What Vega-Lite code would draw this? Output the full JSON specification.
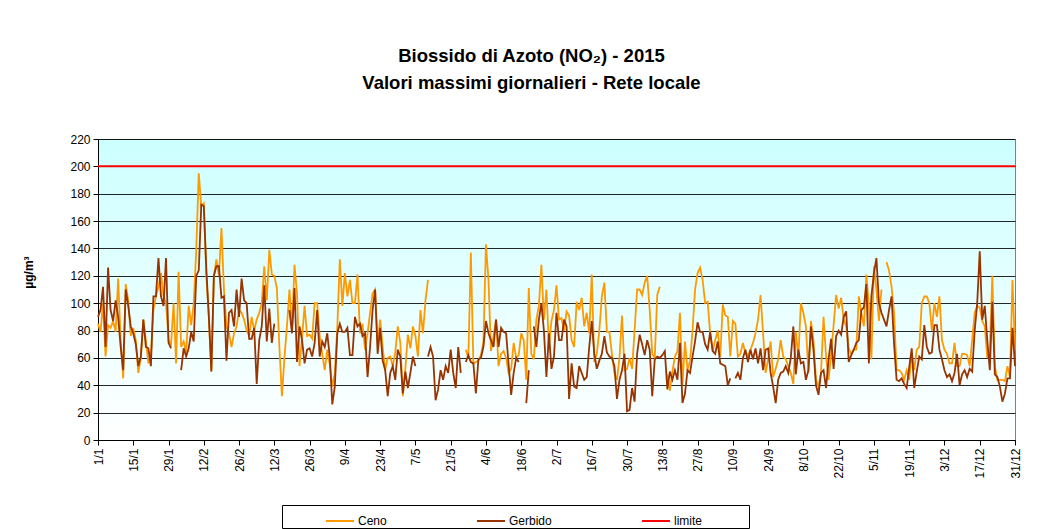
{
"$schema":"https://vega.github.io/schema/vega-lite/v6.json",
"width":917,"height":301,
"autosize":{"type":"none"},
"padding":{"left":98,"top":139,"right":27,"bottom":89},
"background":"white",
"config":{"font":"Liberation Sans","view":{"stroke":"#808080","strokeWidth":1,"fill":{"gradient":"linear","x1":0,"y1":0,"x2":0,"y2":1,"stops":[{"offset":0,"color":"#CCFFFF"},{"offset":1,"color":"#FFFFFF"}]}}},
"title":{"text":["Biossido di Azoto (NO₂) - 2015","Valori massimi giornalieri - Rete locale"],"fontSize":18.5,"fontWeight":"bold","font":"Liberation Sans","lineHeight":27,"dx":-25,"offset":41,"color":"black"},
"layer":[
{"data":{"values":[
{"data":"2015-01-01","Ceno":85,"Gerbido":90},{"data":"2015-01-02","Ceno":79,"Gerbido":95},{"data":"2015-01-03","Ceno":100,"Gerbido":112},{"data":"2015-01-04","Ceno":61,"Gerbido":68},{"data":"2015-01-05","Ceno":84,"Gerbido":126},{"data":"2015-01-06","Ceno":82,"Gerbido":95},{"data":"2015-01-07","Ceno":87,"Gerbido":87},{"data":"2015-01-08","Ceno":79,"Gerbido":102},{"data":"2015-01-09","Ceno":118,"Gerbido":90},{"data":"2015-01-10","Ceno":73,"Gerbido":68},{"data":"2015-01-11","Ceno":45,"Gerbido":51},{"data":"2015-01-12","Ceno":114,"Gerbido":110},{"data":"2015-01-13","Ceno":102,"Gerbido":98},{"data":"2015-01-14","Ceno":76,"Gerbido":83},{"data":"2015-01-15","Ceno":82,"Gerbido":78},{"data":"2015-01-16","Ceno":73,"Gerbido":70},{"data":"2015-01-17","Ceno":49,"Gerbido":54},{"data":"2015-01-18","Ceno":60,"Gerbido":61},{"data":"2015-01-19","Ceno":88,"Gerbido":88},{"data":"2015-01-20","Ceno":73,"Gerbido":68},{"data":"2015-01-21","Ceno":56,"Gerbido":67},{"data":"2015-01-22","Ceno":62,"Gerbido":54},{"data":"2015-01-23","Ceno":95,"Gerbido":105},{"data":"2015-01-24","Ceno":105,"Gerbido":105},{"data":"2015-01-25","Ceno":112,"Gerbido":133},{"data":"2015-01-26","Ceno":122,"Gerbido":105},{"data":"2015-01-27","Ceno":105,"Gerbido":98},{"data":"2015-01-28","Ceno":100,"Gerbido":133},{"data":"2015-01-29","Ceno":73,"Gerbido":71},{"data":"2015-01-30","Ceno":70,"Gerbido":67},{"data":"2015-01-31","Ceno":100,"Gerbido":null},
{"data":"2015-02-01","Ceno":56,"Gerbido":null},{"data":"2015-02-02","Ceno":123,"Gerbido":null},{"data":"2015-02-03","Ceno":68,"Gerbido":51},{"data":"2015-02-04","Ceno":72,"Gerbido":67},{"data":"2015-02-05","Ceno":64,"Gerbido":61},{"data":"2015-02-06","Ceno":98,"Gerbido":67},{"data":"2015-02-07","Ceno":84,"Gerbido":79},{"data":"2015-02-08","Ceno":100,"Gerbido":72},{"data":"2015-02-09","Ceno":139,"Gerbido":120},{"data":"2015-02-10","Ceno":195,"Gerbido":124},{"data":"2015-02-11","Ceno":171,"Gerbido":172},{"data":"2015-02-12","Ceno":173,"Gerbido":171},{"data":"2015-02-13","Ceno":120,"Gerbido":125},{"data":"2015-02-14","Ceno":90,"Gerbido":90},{"data":"2015-02-15","Ceno":51,"Gerbido":50},{"data":"2015-02-16","Ceno":120,"Gerbido":120},{"data":"2015-02-17","Ceno":132,"Gerbido":127},{"data":"2015-02-18","Ceno":120,"Gerbido":127},{"data":"2015-02-19","Ceno":155,"Gerbido":104},{"data":"2015-02-20","Ceno":110,"Gerbido":105},{"data":"2015-02-21","Ceno":83,"Gerbido":58},{"data":"2015-02-22","Ceno":78,"Gerbido":93},{"data":"2015-02-23","Ceno":68,"Gerbido":95},{"data":"2015-02-24","Ceno":78,"Gerbido":83},{"data":"2015-02-25","Ceno":83,"Gerbido":110},{"data":"2015-02-26","Ceno":95,"Gerbido":90},{"data":"2015-02-27","Ceno":93,"Gerbido":118},{"data":"2015-02-28","Ceno":88,"Gerbido":102},
{"data":"2015-03-01","Ceno":80,"Gerbido":100},{"data":"2015-03-02","Ceno":76,"Gerbido":74},{"data":"2015-03-03","Ceno":90,"Gerbido":74},{"data":"2015-03-04","Ceno":80,"Gerbido":82},{"data":"2015-03-05","Ceno":88,"Gerbido":41},{"data":"2015-03-06","Ceno":93,"Gerbido":73},{"data":"2015-03-07","Ceno":100,"Gerbido":83},{"data":"2015-03-08","Ceno":127,"Gerbido":113},{"data":"2015-03-09","Ceno":102,"Gerbido":72},{"data":"2015-03-10","Ceno":139,"Gerbido":96},{"data":"2015-03-11","Ceno":121,"Gerbido":71},{"data":"2015-03-12","Ceno":120,"Gerbido":85},{"data":"2015-03-13","Ceno":111,"Gerbido":null},{"data":"2015-03-14","Ceno":68,"Gerbido":null},{"data":"2015-03-15","Ceno":32,"Gerbido":null},{"data":"2015-03-16","Ceno":60,"Gerbido":null},{"data":"2015-03-17","Ceno":83,"Gerbido":null},{"data":"2015-03-18","Ceno":110,"Gerbido":95},{"data":"2015-03-19","Ceno":80,"Gerbido":78},{"data":"2015-03-20","Ceno":128,"Gerbido":111},{"data":"2015-03-21","Ceno":107,"Gerbido":57},{"data":"2015-03-22","Ceno":54,"Gerbido":83},{"data":"2015-03-23","Ceno":75,"Gerbido":73},{"data":"2015-03-24","Ceno":98,"Gerbido":56},{"data":"2015-03-25","Ceno":76,"Gerbido":66},{"data":"2015-03-26","Ceno":77,"Gerbido":67},{"data":"2015-03-27","Ceno":74,"Gerbido":61},{"data":"2015-03-28","Ceno":100,"Gerbido":71},{"data":"2015-03-29","Ceno":100,"Gerbido":95},{"data":"2015-03-30","Ceno":76,"Gerbido":61},{"data":"2015-03-31","Ceno":63,"Gerbido":72},
{"data":"2015-04-01","Ceno":51,"Gerbido":68},{"data":"2015-04-02","Ceno":66,"Gerbido":78},{"data":"2015-04-03","Ceno":55,"Gerbido":61},{"data":"2015-04-04","Ceno":39,"Gerbido":26},{"data":"2015-04-05","Ceno":49,"Gerbido":39},{"data":"2015-04-06","Ceno":83,"Gerbido":78},{"data":"2015-04-07","Ceno":132,"Gerbido":85},{"data":"2015-04-08","Ceno":98,"Gerbido":79},{"data":"2015-04-09","Ceno":122,"Gerbido":79},{"data":"2015-04-10","Ceno":105,"Gerbido":82},{"data":"2015-04-11","Ceno":117,"Gerbido":62},{"data":"2015-04-12","Ceno":100,"Gerbido":62},{"data":"2015-04-13","Ceno":100,"Gerbido":90},{"data":"2015-04-14","Ceno":121,"Gerbido":83},{"data":"2015-04-15","Ceno":78,"Gerbido":85},{"data":"2015-04-16","Ceno":85,"Gerbido":76},{"data":"2015-04-17","Ceno":66,"Gerbido":78},{"data":"2015-04-18","Ceno":78,"Gerbido":46},{"data":"2015-04-19","Ceno":93,"Gerbido":68},{"data":"2015-04-20","Ceno":107,"Gerbido":95},{"data":"2015-04-21","Ceno":110,"Gerbido":110},{"data":"2015-04-22","Ceno":70,"Gerbido":63},{"data":"2015-04-23","Ceno":88,"Gerbido":82},{"data":"2015-04-24","Ceno":68,"Gerbido":58},{"data":"2015-04-25","Ceno":51,"Gerbido":51},{"data":"2015-04-26","Ceno":60,"Gerbido":32},{"data":"2015-04-27","Ceno":61,"Gerbido":49},{"data":"2015-04-28","Ceno":54,"Gerbido":54},{"data":"2015-04-29","Ceno":64,"Gerbido":44},{"data":"2015-04-30","Ceno":83,"Gerbido":66},
{"data":"2015-05-01","Ceno":71,"Gerbido":61},{"data":"2015-05-02","Ceno":32,"Gerbido":34},{"data":"2015-05-03","Ceno":52,"Gerbido":50},{"data":"2015-05-04","Ceno":77,"Gerbido":38},{"data":"2015-05-05","Ceno":67,"Gerbido":49},{"data":"2015-05-06","Ceno":83,"Gerbido":61},{"data":"2015-05-07","Ceno":76,"Gerbido":54},{"data":"2015-05-08","Ceno":61,"Gerbido":null},{"data":"2015-05-09","Ceno":95,"Gerbido":null},{"data":"2015-05-10","Ceno":78,"Gerbido":null},{"data":"2015-05-11","Ceno":102,"Gerbido":null},{"data":"2015-05-12","Ceno":117,"Gerbido":61},{"data":"2015-05-13","Ceno":null,"Gerbido":68},{"data":"2015-05-14","Ceno":null,"Gerbido":61},{"data":"2015-05-15","Ceno":null,"Gerbido":29},{"data":"2015-05-16","Ceno":null,"Gerbido":37},{"data":"2015-05-17","Ceno":null,"Gerbido":51},{"data":"2015-05-18","Ceno":null,"Gerbido":44},{"data":"2015-05-19","Ceno":null,"Gerbido":54},{"data":"2015-05-20","Ceno":null,"Gerbido":49},{"data":"2015-05-21","Ceno":null,"Gerbido":66},{"data":"2015-05-22","Ceno":null,"Gerbido":49},{"data":"2015-05-23","Ceno":null,"Gerbido":38},{"data":"2015-05-24","Ceno":null,"Gerbido":68},{"data":"2015-05-25","Ceno":null,"Gerbido":49},{"data":"2015-05-26","Ceno":null,"Gerbido":null},{"data":"2015-05-27","Ceno":66,"Gerbido":57},{"data":"2015-05-28","Ceno":60,"Gerbido":62},{"data":"2015-05-29","Ceno":137,"Gerbido":57},{"data":"2015-05-30","Ceno":56,"Gerbido":56},{"data":"2015-05-31","Ceno":57,"Gerbido":34},
{"data":"2015-06-01","Ceno":58,"Gerbido":59},{"data":"2015-06-02","Ceno":62,"Gerbido":60},{"data":"2015-06-03","Ceno":72,"Gerbido":68},{"data":"2015-06-04","Ceno":143,"Gerbido":87},{"data":"2015-06-05","Ceno":117,"Gerbido":78},{"data":"2015-06-06","Ceno":65,"Gerbido":73},{"data":"2015-06-07","Ceno":76,"Gerbido":68},{"data":"2015-06-08","Ceno":88,"Gerbido":88},{"data":"2015-06-09","Ceno":54,"Gerbido":68},{"data":"2015-06-10","Ceno":63,"Gerbido":82},{"data":"2015-06-11","Ceno":65,"Gerbido":79},{"data":"2015-06-12","Ceno":60,"Gerbido":78},{"data":"2015-06-13","Ceno":49,"Gerbido":55},{"data":"2015-06-14","Ceno":52,"Gerbido":33},{"data":"2015-06-15","Ceno":71,"Gerbido":49},{"data":"2015-06-16","Ceno":60,"Gerbido":60},{"data":"2015-06-17","Ceno":62,"Gerbido":57},{"data":"2015-06-18","Ceno":78,"Gerbido":null},{"data":"2015-06-19","Ceno":73,"Gerbido":null},{"data":"2015-06-20","Ceno":44,"Gerbido":27},{"data":"2015-06-21","Ceno":111,"Gerbido":51},{"data":"2015-06-22","Ceno":63,"Gerbido":null},{"data":"2015-06-23","Ceno":59,"Gerbido":83},{"data":"2015-06-24","Ceno":88,"Gerbido":68},{"data":"2015-06-25","Ceno":98,"Gerbido":88},{"data":"2015-06-26","Ceno":128,"Gerbido":100},{"data":"2015-06-27","Ceno":88,"Gerbido":80},{"data":"2015-06-28","Ceno":110,"Gerbido":46},{"data":"2015-06-29","Ceno":68,"Gerbido":78},{"data":"2015-06-30","Ceno":87,"Gerbido":52},
{"data":"2015-07-01","Ceno":95,"Gerbido":61},{"data":"2015-07-02","Ceno":113,"Gerbido":93},{"data":"2015-07-03","Ceno":88,"Gerbido":73},{"data":"2015-07-04","Ceno":89,"Gerbido":73},{"data":"2015-07-05","Ceno":80,"Gerbido":88},{"data":"2015-07-06","Ceno":94,"Gerbido":83},{"data":"2015-07-07","Ceno":91,"Gerbido":30},{"data":"2015-07-08","Ceno":73,"Gerbido":56},{"data":"2015-07-09","Ceno":68,"Gerbido":39},{"data":"2015-07-10","Ceno":101,"Gerbido":38},{"data":"2015-07-11","Ceno":95,"Gerbido":54},{"data":"2015-07-12","Ceno":104,"Gerbido":49},{"data":"2015-07-13","Ceno":83,"Gerbido":44},{"data":"2015-07-14","Ceno":93,"Gerbido":46},{"data":"2015-07-15","Ceno":78,"Gerbido":68},{"data":"2015-07-16","Ceno":121,"Gerbido":87},{"data":"2015-07-17","Ceno":57,"Gerbido":63},{"data":"2015-07-18","Ceno":63,"Gerbido":52},{"data":"2015-07-19","Ceno":80,"Gerbido":58},{"data":"2015-07-20","Ceno":105,"Gerbido":63},{"data":"2015-07-21","Ceno":115,"Gerbido":76},{"data":"2015-07-22","Ceno":79,"Gerbido":64},{"data":"2015-07-23","Ceno":79,"Gerbido":61},{"data":"2015-07-24","Ceno":63,"Gerbido":60},{"data":"2015-07-25","Ceno":49,"Gerbido":54},{"data":"2015-07-26","Ceno":44,"Gerbido":30},{"data":"2015-07-27","Ceno":60,"Gerbido":44},{"data":"2015-07-28","Ceno":91,"Gerbido":51},{"data":"2015-07-29","Ceno":51,"Gerbido":63},{"data":"2015-07-30","Ceno":52,"Gerbido":21},{"data":"2015-07-31","Ceno":60,"Gerbido":22},
{"data":"2015-08-01","Ceno":52,"Gerbido":38},{"data":"2015-08-02","Ceno":80,"Gerbido":28},{"data":"2015-08-03","Ceno":110,"Gerbido":63},{"data":"2015-08-04","Ceno":110,"Gerbido":77},{"data":"2015-08-05","Ceno":106,"Gerbido":70},{"data":"2015-08-06","Ceno":115,"Gerbido":62},{"data":"2015-08-07","Ceno":120,"Gerbido":73},{"data":"2015-08-08","Ceno":95,"Gerbido":66},{"data":"2015-08-09","Ceno":63,"Gerbido":32},{"data":"2015-08-10","Ceno":60,"Gerbido":59},{"data":"2015-08-11","Ceno":106,"Gerbido":61},{"data":"2015-08-12","Ceno":112,"Gerbido":60},{"data":"2015-08-13","Ceno":null,"Gerbido":62},{"data":"2015-08-14","Ceno":null,"Gerbido":65},{"data":"2015-08-15","Ceno":48,"Gerbido":37},{"data":"2015-08-16","Ceno":36,"Gerbido":50},{"data":"2015-08-17","Ceno":50,"Gerbido":44},{"data":"2015-08-18","Ceno":61,"Gerbido":51},{"data":"2015-08-19","Ceno":65,"Gerbido":44},{"data":"2015-08-20","Ceno":93,"Gerbido":71},{"data":"2015-08-21","Ceno":40,"Gerbido":27},{"data":"2015-08-22","Ceno":72,"Gerbido":34},{"data":"2015-08-23","Ceno":51,"Gerbido":51},{"data":"2015-08-24","Ceno":58,"Gerbido":49},{"data":"2015-08-25","Ceno":80,"Gerbido":61},{"data":"2015-08-26","Ceno":110,"Gerbido":72},{"data":"2015-08-27","Ceno":122,"Gerbido":86},{"data":"2015-08-28","Ceno":126,"Gerbido":79},{"data":"2015-08-29","Ceno":117,"Gerbido":79},{"data":"2015-08-30","Ceno":100,"Gerbido":70},{"data":"2015-08-31","Ceno":101,"Gerbido":66},
{"data":"2015-09-01","Ceno":78,"Gerbido":79},{"data":"2015-09-02","Ceno":65,"Gerbido":65},{"data":"2015-09-03","Ceno":73,"Gerbido":63},{"data":"2015-09-04","Ceno":80,"Gerbido":72},{"data":"2015-09-05","Ceno":61,"Gerbido":56},{"data":"2015-09-06","Ceno":99,"Gerbido":55},{"data":"2015-09-07","Ceno":91,"Gerbido":54},{"data":"2015-09-08","Ceno":90,"Gerbido":40},{"data":"2015-09-09","Ceno":61,"Gerbido":45},{"data":"2015-09-10","Ceno":87,"Gerbido":null},{"data":"2015-09-11","Ceno":85,"Gerbido":45},{"data":"2015-09-12","Ceno":61,"Gerbido":49},{"data":"2015-09-13","Ceno":63,"Gerbido":44},{"data":"2015-09-14","Ceno":71,"Gerbido":60},{"data":"2015-09-15","Ceno":63,"Gerbido":66},{"data":"2015-09-16","Ceno":62,"Gerbido":57},{"data":"2015-09-17","Ceno":66,"Gerbido":66},{"data":"2015-09-18","Ceno":71,"Gerbido":59},{"data":"2015-09-19","Ceno":78,"Gerbido":67},{"data":"2015-09-20","Ceno":88,"Gerbido":56},{"data":"2015-09-21","Ceno":106,"Gerbido":67},{"data":"2015-09-22","Ceno":78,"Gerbido":51},{"data":"2015-09-23","Ceno":49,"Gerbido":66},{"data":"2015-09-24","Ceno":59,"Gerbido":67},{"data":"2015-09-25","Ceno":72,"Gerbido":49},{"data":"2015-09-26","Ceno":46,"Gerbido":39},{"data":"2015-09-27","Ceno":52,"Gerbido":27},{"data":"2015-09-28","Ceno":59,"Gerbido":44},{"data":"2015-09-29","Ceno":73,"Gerbido":49},{"data":"2015-09-30","Ceno":61,"Gerbido":50},
{"data":"2015-10-01","Ceno":59,"Gerbido":54},{"data":"2015-10-02","Ceno":54,"Gerbido":49},{"data":"2015-10-03","Ceno":49,"Gerbido":60},{"data":"2015-10-04","Ceno":41,"Gerbido":83},{"data":"2015-10-05","Ceno":79,"Gerbido":48},{"data":"2015-10-06","Ceno":60,"Gerbido":66},{"data":"2015-10-07","Ceno":100,"Gerbido":56},{"data":"2015-10-08","Ceno":93,"Gerbido":57},{"data":"2015-10-09","Ceno":83,"Gerbido":44},{"data":"2015-10-10","Ceno":49,"Gerbido":51},{"data":"2015-10-11","Ceno":87,"Gerbido":83},{"data":"2015-10-12","Ceno":73,"Gerbido":66},{"data":"2015-10-13","Ceno":44,"Gerbido":40},{"data":"2015-10-14","Ceno":39,"Gerbido":33},{"data":"2015-10-15","Ceno":49,"Gerbido":49},{"data":"2015-10-16","Ceno":90,"Gerbido":51},{"data":"2015-10-17","Ceno":61,"Gerbido":38},{"data":"2015-10-18","Ceno":44,"Gerbido":59},{"data":"2015-10-19","Ceno":63,"Gerbido":74},{"data":"2015-10-20","Ceno":84,"Gerbido":52},{"data":"2015-10-21","Ceno":106,"Gerbido":76},{"data":"2015-10-22","Ceno":96,"Gerbido":80},{"data":"2015-10-23","Ceno":104,"Gerbido":77},{"data":"2015-10-24","Ceno":88,"Gerbido":90},{"data":"2015-10-25","Ceno":83,"Gerbido":94},{"data":"2015-10-26","Ceno":67,"Gerbido":57},{"data":"2015-10-27","Ceno":63,"Gerbido":62},{"data":"2015-10-28","Ceno":66,"Gerbido":66},{"data":"2015-10-29","Ceno":66,"Gerbido":71},{"data":"2015-10-30","Ceno":105,"Gerbido":73},{"data":"2015-10-31","Ceno":93,"Gerbido":95},
{"data":"2015-11-01","Ceno":83,"Gerbido":97},{"data":"2015-11-02","Ceno":121,"Gerbido":114},{"data":"2015-11-03","Ceno":98,"Gerbido":56},{"data":"2015-11-04","Ceno":59,"Gerbido":105},{"data":"2015-11-05","Ceno":127,"Gerbido":122},{"data":"2015-11-06","Ceno":110,"Gerbido":133},{"data":"2015-11-07","Ceno":87,"Gerbido":100},{"data":"2015-11-08","Ceno":110,"Gerbido":93},{"data":"2015-11-09","Ceno":null,"Gerbido":88},{"data":"2015-11-10","Ceno":130,"Gerbido":83},{"data":"2015-11-11","Ceno":124,"Gerbido":95},{"data":"2015-11-12","Ceno":112,"Gerbido":105},{"data":"2015-11-13","Ceno":93,"Gerbido":70},{"data":"2015-11-14","Ceno":51,"Gerbido":44},{"data":"2015-11-15","Ceno":51,"Gerbido":43},{"data":"2015-11-16","Ceno":49,"Gerbido":45},{"data":"2015-11-17","Ceno":44,"Gerbido":41},{"data":"2015-11-18","Ceno":51,"Gerbido":38},{"data":"2015-11-19","Ceno":44,"Gerbido":53},{"data":"2015-11-20","Ceno":63,"Gerbido":67},{"data":"2015-11-21","Ceno":51,"Gerbido":38},{"data":"2015-11-22","Ceno":66,"Gerbido":50},{"data":"2015-11-23","Ceno":68,"Gerbido":61},{"data":"2015-11-24","Ceno":100,"Gerbido":59},{"data":"2015-11-25","Ceno":105,"Gerbido":84},{"data":"2015-11-26","Ceno":105,"Gerbido":68},{"data":"2015-11-27","Ceno":100,"Gerbido":63},{"data":"2015-11-28","Ceno":80,"Gerbido":64},{"data":"2015-11-29","Ceno":100,"Gerbido":84},{"data":"2015-11-30","Ceno":90,"Gerbido":84},
{"data":"2015-12-01","Ceno":105,"Gerbido":66},{"data":"2015-12-02","Ceno":73,"Gerbido":59},{"data":"2015-12-03","Ceno":66,"Gerbido":51},{"data":"2015-12-04","Ceno":63,"Gerbido":46},{"data":"2015-12-05","Ceno":56,"Gerbido":48},{"data":"2015-12-06","Ceno":56,"Gerbido":43},{"data":"2015-12-07","Ceno":71,"Gerbido":49},{"data":"2015-12-08","Ceno":54,"Gerbido":63},{"data":"2015-12-09","Ceno":54,"Gerbido":40},{"data":"2015-12-10","Ceno":63,"Gerbido":48},{"data":"2015-12-11","Ceno":63,"Gerbido":51},{"data":"2015-12-12","Ceno":62,"Gerbido":46},{"data":"2015-12-13","Ceno":54,"Gerbido":52},{"data":"2015-12-14","Ceno":73,"Gerbido":50},{"data":"2015-12-15","Ceno":93,"Gerbido":80},{"data":"2015-12-16","Ceno":98,"Gerbido":100},{"data":"2015-12-17","Ceno":97,"Gerbido":138},{"data":"2015-12-18","Ceno":87,"Gerbido":88},{"data":"2015-12-19","Ceno":83,"Gerbido":98},{"data":"2015-12-20","Ceno":60,"Gerbido":73},{"data":"2015-12-21","Ceno":65,"Gerbido":51},{"data":"2015-12-22","Ceno":120,"Gerbido":101},{"data":"2015-12-23","Ceno":54,"Gerbido":48},{"data":"2015-12-24","Ceno":44,"Gerbido":46},{"data":"2015-12-25","Ceno":44,"Gerbido":39},{"data":"2015-12-26","Ceno":44,"Gerbido":28},{"data":"2015-12-27","Ceno":43,"Gerbido":34},{"data":"2015-12-28","Ceno":54,"Gerbido":45},{"data":"2015-12-29","Ceno":46,"Gerbido":45},{"data":"2015-12-30","Ceno":117,"Gerbido":82},{"data":"2015-12-31","Ceno":66,"Gerbido":54}
]},
"transform":[{"fold":["Ceno","Gerbido"],"as":["serie","valore"]}],
"mark":{"type":"line","strokeWidth":1.8,"invalid":"break-paths-filter-domains"},
"encoding":{
"x":{"field":"data","type":"temporal","scale":{"type":"utc","nice":false,"domain":[{"year":2015,"month":1,"date":1,"utc":true},{"year":2015,"month":12,"date":31,"utc":true}]},
"axis":{"title":null,"grid":false,"format":"%-d/%-m","labelAngle":-90,"labelAlign":"right","labelBaseline":"middle","labelFontSize":12,"labelColor":"black","tickColor":"black","domainColor":"black","tickSize":5,"labelPadding":3,"labelOverlap":false,"labelFlush":false,
"values":[{"year":2015,"month":1,"date":1,"utc":true},{"year":2015,"month":1,"date":15,"utc":true},{"year":2015,"month":1,"date":29,"utc":true},{"year":2015,"month":2,"date":12,"utc":true},{"year":2015,"month":2,"date":26,"utc":true},{"year":2015,"month":3,"date":12,"utc":true},{"year":2015,"month":3,"date":26,"utc":true},{"year":2015,"month":4,"date":9,"utc":true},{"year":2015,"month":4,"date":23,"utc":true},{"year":2015,"month":5,"date":7,"utc":true},{"year":2015,"month":5,"date":21,"utc":true},{"year":2015,"month":6,"date":4,"utc":true},{"year":2015,"month":6,"date":18,"utc":true},{"year":2015,"month":7,"date":2,"utc":true},{"year":2015,"month":7,"date":16,"utc":true},{"year":2015,"month":7,"date":30,"utc":true},{"year":2015,"month":8,"date":13,"utc":true},{"year":2015,"month":8,"date":27,"utc":true},{"year":2015,"month":9,"date":10,"utc":true},{"year":2015,"month":9,"date":24,"utc":true},{"year":2015,"month":10,"date":8,"utc":true},{"year":2015,"month":10,"date":22,"utc":true},{"year":2015,"month":11,"date":5,"utc":true},{"year":2015,"month":11,"date":19,"utc":true},{"year":2015,"month":12,"date":3,"utc":true},{"year":2015,"month":12,"date":17,"utc":true},{"year":2015,"month":12,"date":31,"utc":true}]}},
"y":{"field":"valore","type":"quantitative","scale":{"domain":[0,220],"nice":false},
"axis":{"values":[0,20,40,60,80,100,120,140,160,180,200,220],"labelOverlap":false,"title":"µg/m³","titleFontSize":12,"titleFontWeight":"bold","titleColor":"black","titleAngle":-90,"titleX":-70,"titleY":133,"titleAlign":"center","titleBaseline":"middle","labelFontSize":12,"labelColor":"black","tickColor":"black","domainColor":"black","gridColor":"black","gridOpacity":0.85,"gridWidth":1,"tickSize":5,"labelPadding":3}},
"color":{"field":"serie","type":"nominal","scale":{"domain":["Ceno","Gerbido","limite"],"range":["#FF9900","#993300","#FF0000"]},
"legend":{"title":null,"orient":"none","legendX":184,"legendY":366,"direction":"horizontal","symbolType":"stroke","symbolStrokeWidth":2,"symbolSize":784,"labelFontSize":12,"labelColor":"black","strokeColor":"black","fillColor":"white","padding":1,"symbolOffset":42,"columnPadding":47,"labelOffset":3,"labelExpr":"datum.label == 'limite' ? 'limite\u2800\u2800\u2800\u2800\u2800' : datum.label"}}
}},
{"data":{"values":[{"serie":"limite","valore":200}]},
"mark":{"type":"rule","strokeWidth":2},
"encoding":{"y":{"field":"valore","type":"quantitative","scale":{"domain":[0,220],"nice":false},
"axis":{"values":[0,20,40,60,80,100,120,140,160,180,200,220],"labelOverlap":false,"title":"µg/m³","titleFontSize":12,"titleFontWeight":"bold","titleColor":"black","titleAngle":-90,"titleX":-70,"titleY":133,"titleAlign":"center","titleBaseline":"middle","labelFontSize":12,"labelColor":"black","tickColor":"black","domainColor":"black","gridColor":"black","gridOpacity":0.85,"gridWidth":1,"tickSize":5,"labelPadding":3}},
"color":{"field":"serie","type":"nominal"}}}
]
}
